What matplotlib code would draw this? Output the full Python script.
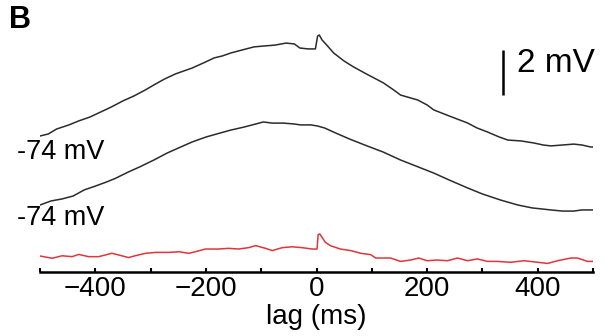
import matplotlib
matplotlib.use("Agg")
import matplotlib.pyplot as plt
import numpy as np

plt.rcParams['font.family'] = ['Liberation Sans', 'DejaVu Sans']

# ---- data (lag in ms, membrane potential change in mV relative to trace start) ----
top_lag = [-500, -485, -470, -448, -430, -410, -390, -371, -350, -330,
           -310, -294, -275, -255, -240, -225, -205, -185, -170, -155,
           -135, -113, -95, -75, -55, -40, -30, -15, -2, 2,
           5, 10, 20, 31, 50, 67, 90, 121, 140, 152,
           183, 200, 212, 240, 273, 290, 309, 330, 346, 370,
           393, 410, 424, 445, 465, 480, 496, 500]
top_mv = [0.00, 0.09, 0.31, 0.49, 0.67, 0.84, 1.07, 1.29, 1.56, 1.78,
          2.04, 2.27, 2.53, 2.76, 2.89, 3.02, 3.24, 3.47, 3.56, 3.69,
          3.82, 3.96, 4.00, 4.04, 4.13, 4.09, 3.91, 3.87, 3.87, 4.44,
          4.49, 4.27, 4.00, 3.69, 3.33, 3.07, 2.76, 2.36, 2.04, 1.82,
          1.60, 1.38, 1.16, 0.89, 0.58, 0.36, 0.18, -0.04, -0.18, -0.22,
          -0.31, -0.40, -0.44, -0.40, -0.36, -0.40, -0.49, -0.49]

mid_lag = [-500, -480, -460, -440, -420, -400, -380, -364, -340, -320,
           -294, -270, -250, -225, -200, -180, -155, -130, -110, -96,
           -80, -60, -40, -29, -10, 2, 15, 31, 60, 92,
           120, 152, 180, 212, 240, 273, 300, 333, 364, 390,
           424, 445, 465, 480, 496, 500]
mid_mv = [0.00, 0.18, 0.27, 0.40, 0.67, 0.84, 1.02, 1.18, 1.47, 1.69,
          2.00, 2.31, 2.53, 2.80, 3.02, 3.16, 3.33, 3.47, 3.60, 3.69,
          3.64, 3.64, 3.60, 3.56, 3.56, 3.51, 3.42, 3.24, 2.93, 2.62,
          2.36, 2.00, 1.73, 1.42, 1.11, 0.76, 0.49, 0.22, 0.00, -0.13,
          -0.22, -0.27, -0.27, -0.22, -0.22, -0.22]

red_lag = [-500, -478, -460, -442, -430, -412, -394, -370, -352, -340,
           -328, -309, -291, -267, -249, -231, -219, -201, -177, -159,
           -141, -123, -110, -92, -80, -62, -44, -26, -8, 1,
           3, 6, 16, 25, 43, 62, 80, 98, 107, 134,
           152, 170, 185, 200, 218, 237, 255, 273, 291, 309,
           327, 351, 375, 400, 418, 436, 460, 472, 490, 500]
red_mv = [0.00, -0.10, 0.01, -0.03, 0.07, -0.03, -0.03, 0.12, 0.01, -0.07,
          0.01, 0.12, 0.16, 0.16, 0.19, 0.12, 0.19, 0.31, 0.31, 0.34,
          0.31, 0.37, 0.46, 0.34, 0.24, 0.37, 0.41, 0.37, 0.31, 0.31,
          0.95, 0.98, 0.61, 0.46, 0.31, 0.24, 0.12, 0.06, -0.09, -0.09,
          -0.24, -0.18, -0.09, -0.21, -0.18, -0.21, -0.09, -0.21, -0.13, -0.24,
          -0.24, -0.28, -0.21, -0.28, -0.33, -0.21, -0.09, -0.09, -0.24, -0.24]

tick_values = [-500, -400, -300, -200, -100, 0, 100, 200, 300, 400, 500]
tick_labels = ['', '\u2212400', '', '\u2212200', '', '0', '', '200', '', '400', '']
trace_label = '-74 mV'
scale_mv = 2

# ---- layout ----
W, H = 605, 336
PX_PER_MV = 22.5
fig = plt.figure(figsize=(W / 100, H / 100), dpi=100)
ax = fig.add_axes([40 / W, 64 / H, 553 / W, 272 / H])
ax.set_xlim(-500, 500)
ax.set_ylim(0, 272 / PX_PER_MV)

off_top = (272 - 136) / PX_PER_MV
off_mid = (272 - 205) / PX_PER_MV
off_red = (272 - 256) / PX_PER_MV

ax.plot(top_lag, np.array(top_mv) + off_top, color='#2b2b2b', lw=1.1)
ax.plot(mid_lag, np.array(mid_mv) + off_mid, color='#2b2b2b', lw=1.1)
ax.plot(red_lag, np.array(red_mv) + off_red, color='#e0353b', lw=1.1)

# scale bar
bar_x = 337
bar_y0 = (272 - 95) / PX_PER_MV
ax.plot([bar_x, bar_x], [bar_y0, bar_y0 + scale_mv], color='black', lw=1.8,
        solid_capstyle='butt')
fig.text(517 / W, 1 - 63 / H, f'{scale_mv} mV', fontsize=24, va='center', ha='left')

# trace labels
fig.text(17 / W, 1 - 152 / H, trace_label, fontsize=19.5, va='center', ha='left')
fig.text(17 / W, 1 - 218 / H, trace_label, fontsize=19.5, va='center', ha='left')

# panel letter
fig.text(9 / W, 1 - 20 / H, 'B', fontsize=22, fontweight='bold', va='center', ha='left')

# axes styling
for s in ['top', 'right', 'left']:
    ax.spines[s].set_visible(False)
ax.spines['bottom'].set_linewidth(1.8)
ax.set_yticks([])
ax.set_xticks(tick_values)
ax.set_xticklabels(tick_labels)
ax.tick_params(axis='x', direction='in', length=3, width=1.5, labelsize=20, pad=3)
ax.set_xlabel('lag (ms)', fontsize=20, labelpad=1)

fig.savefig('out.png', dpi=100)
